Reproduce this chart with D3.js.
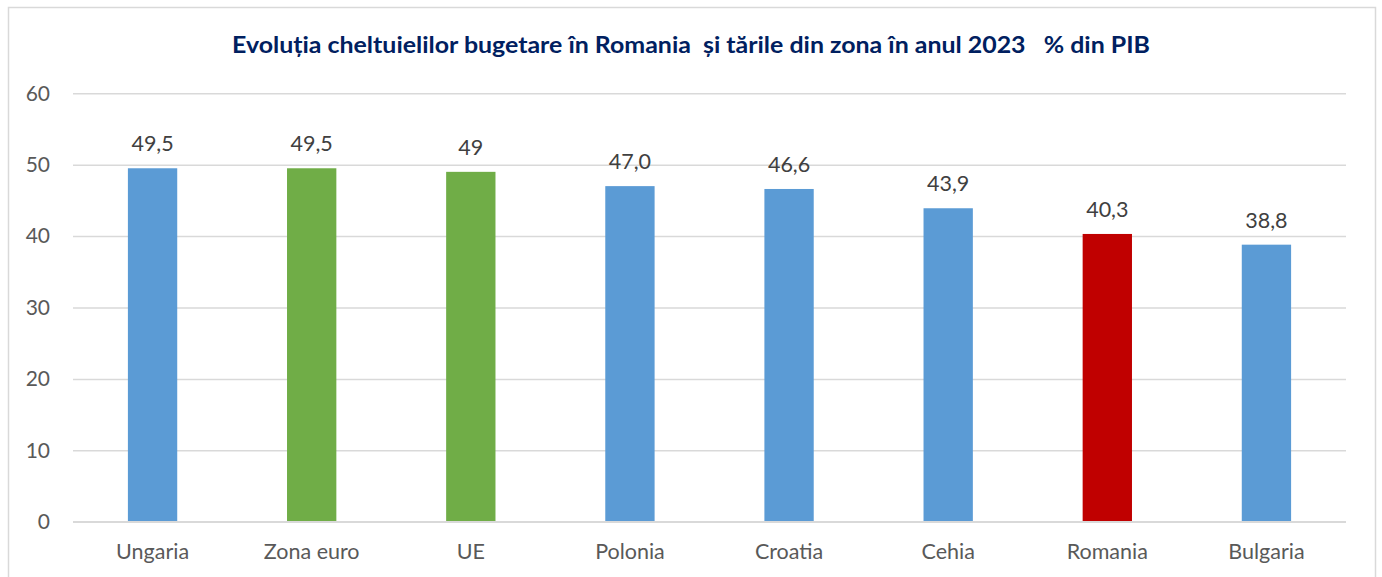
<!DOCTYPE html>
<html><head><meta charset="utf-8">
<script src="https://cdn.jsdelivr.net/npm/d3@7"></script>
<style>
body{margin:0;background:#fff;}
svg{display:block;font-family:Lato,"Open Sans",sans-serif;}
</style></head>
<body><svg id="c" width="1382" height="577"></svg>
<script>
const categories = ["Ungaria","Zona euro","UE","Polonia","Croatia","Cehia","Romania","Bulgaria"];
const values = [49.5,49.5,49,47.0,46.6,43.9,40.3,38.8];
const valueLabels = ["49,5","49,5","49","47,0","46,6","43,9","40,3","38,8"];
const barColors = ["#5B9BD5","#70AD47","#70AD47","#5B9BD5","#5B9BD5","#5B9BD5","#C00000","#5B9BD5"];
const yTicks = [0,10,20,30,40,50,60];
const title = "Evoluția cheltuielilor bugetare în Romania  și tările din zona în anul 2023   % din PIB";

(function(){
const svg = d3.select("#c");
svg.append("rect").attr("x",8.5).attr("y",7.5).attr("width",1367).attr("height",600)
  .attr("fill","#fff").attr("stroke","#d9d9d9").attr("stroke-width",1.5);

const pl=73, pr=1346, pt=93.3, pb=521.7;
const x = d3.scaleBand().domain(categories).range([pl,pr]).paddingInner(0.69).paddingOuter(0.345);
const y = d3.scaleLinear().domain([0,60]).range([pb,pt]);

svg.append("text").attr("x",691).attr("y",53).attr("text-anchor","middle")
  .attr("font-weight","bold").attr("font-size",22.5).attr("fill","#002060")
  .attr("textLength",918).attr("lengthAdjust","spacingAndGlyphs")
  .attr("xml:space","preserve").style("white-space","pre").text(title);

const yAxis = svg.append("g").attr("transform",`translate(${pl},0)`)
  .call(d3.axisLeft(y).tickValues(yTicks).tickSize(-(pr-pl)).tickPadding(23).tickFormat(d3.format("d")));
yAxis.select(".domain").remove();
yAxis.selectAll(".tick line").attr("stroke","#d9d9d9").attr("stroke-width",1.5);
yAxis.selectAll(".tick text").attr("fill","#595959").attr("font-size",21).attr("font-family","Lato");

svg.append("g").selectAll("rect").data(categories).join("rect")
  .attr("x",d=>x(d)).attr("width",x.bandwidth())
  .attr("y",(d,i)=>y(values[i])).attr("height",(d,i)=>y(0)-y(values[i]))
  .attr("fill",(d,i)=>barColors[i]);

svg.append("line").attr("x1",pl).attr("x2",pr).attr("y1",y(0)).attr("y2",y(0))
  .attr("stroke","#d9d9d9").attr("stroke-width",1.5);

svg.append("g").selectAll("text").data(categories).join("text")
  .attr("x",d=>x(d)+x.bandwidth()/2).attr("y",(d,i)=>y(values[i])-17)
  .attr("text-anchor","middle").attr("font-size",21.5).attr("fill","#404040")
  .text((d,i)=>valueLabels[i]);

const xAxis = svg.append("g").attr("transform",`translate(0,${pb})`)
  .call(d3.axisBottom(x).tickSize(0).tickPadding(22));
xAxis.select(".domain").remove();
xAxis.selectAll(".tick text").attr("fill","#595959").attr("font-size",21.5).attr("font-family","Lato");
})();
</script></body></html>
